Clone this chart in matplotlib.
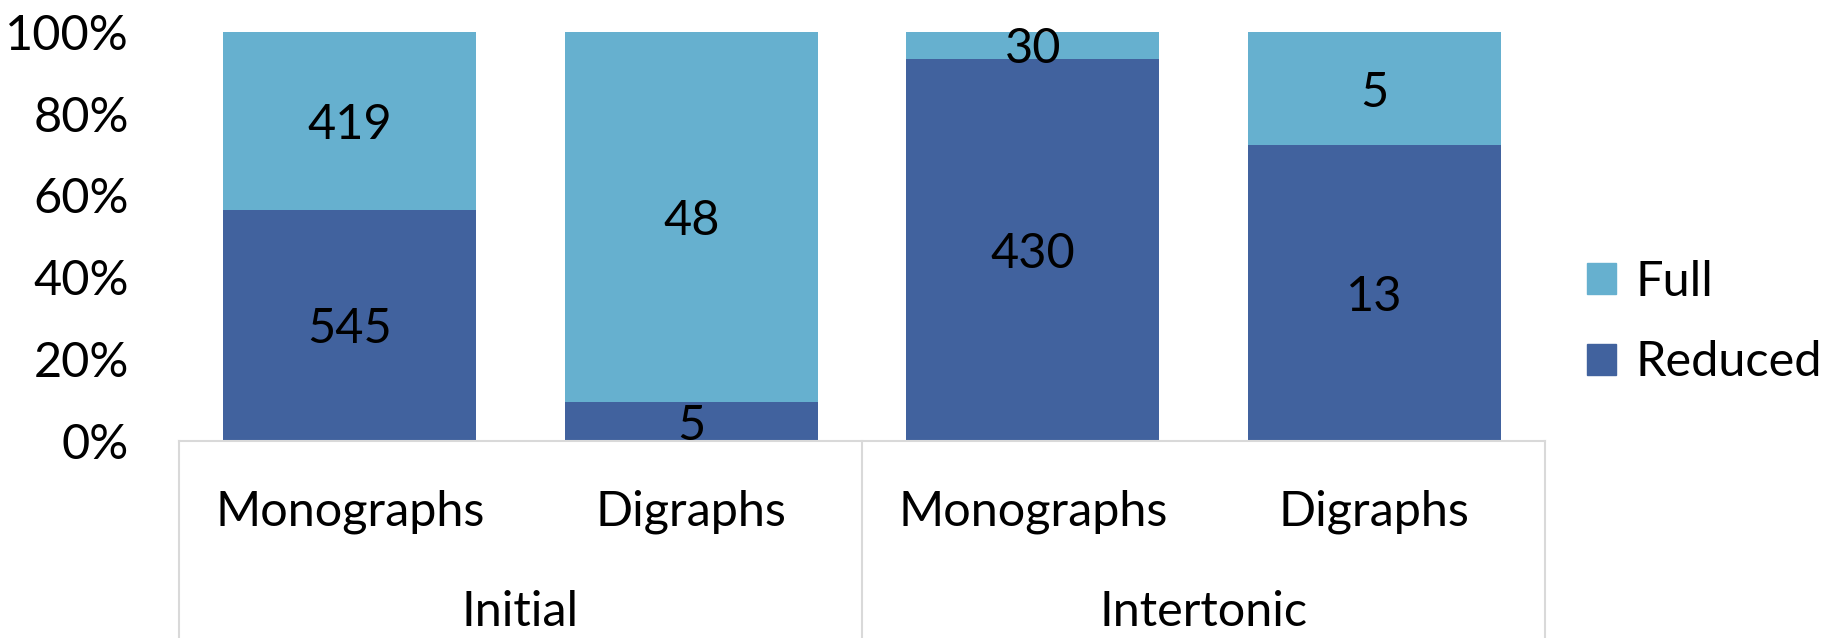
import matplotlib
matplotlib.use("Agg")
import matplotlib.pyplot as plt
import matplotlib.transforms as mtrans
from matplotlib.lines import Line2D
from matplotlib.patches import Patch

plt.rcParams['font.family'] = ['Lato', 'DejaVu Sans']

# data
groups = ["Initial", "Intertonic"]
categories = ["Monographs", "Digraphs", "Monographs", "Digraphs"]
reduced = [545, 5, 430, 13]
full = [419, 48, 30, 5]

col_full = "#66B0CF"
col_red = "#41629E"
grid_col = "#D9D9D9"
fs = 35

fig = plt.figure(figsize=(18.36, 6.38), dpi=100)
ax = fig.add_axes([0.0975, 0.309, 0.744, 0.641])

xs = [i + 0.5 for i in range(len(categories))]
tot = [r + f for r, f in zip(reduced, full)]
red_pct = [r / t * 100 for r, t in zip(reduced, tot)]
full_pct = [f / t * 100 for f, t in zip(full, tot)]

ax.bar(xs, red_pct, width=0.74, color=col_red, label="Reduced")
ax.bar(xs, full_pct, width=0.74, bottom=red_pct, color=col_full, label="Full")

for x, r, f, rv, fv in zip(xs, red_pct, full_pct, reduced, full):
    ax.text(x, r / 2, str(rv), ha="center", va="center_baseline", fontsize=fs)
    ax.text(x, r + f / 2, str(fv), ha="center", va="center_baseline", fontsize=fs)

ax.set_xlim(0, 4)
ax.set_ylim(0, 100)
ax.set_yticks(range(0, 101, 20))
ax.set_yticklabels([f"{v}%" for v in range(0, 101, 20)], fontsize=fs)
ax.tick_params(axis="y", length=0, pad=36)
ax.set_xticks([])
for s in ["top", "right", "left"]:
    ax.spines[s].set_visible(False)
ax.spines["bottom"].set_color(grid_col)
ax.spines["bottom"].set_linewidth(1.5)

# multi-level category axis
tr = mtrans.blended_transform_factory(ax.transData, fig.transFigure)
for x, c in zip(xs, categories):
    ax.text(x, 0.198, c, transform=tr, ha="center", va="center", fontsize=fs, clip_on=False)
for i, g in enumerate(groups):
    ax.text(2 * i + 1, 0.04, g, transform=tr, ha="center", va="center", fontsize=fs, clip_on=False)
for xb in [0, 2, 4]:
    fig.add_artist(Line2D([xb, xb], [0, 0.309], transform=tr, color=grid_col, lw=1.5))

handles = [Patch(color=col_full, label="Full"), Patch(color=col_red, label="Reduced")]
fig.legend(handles=handles, loc="center left", bbox_to_anchor=(0.8406, 0.495), frameon=False,
           fontsize=fs, handlelength=0.6, handleheight=0.6, handletextpad=0.4, labelspacing=0.75)

fig.savefig("out.png", dpi=100)
